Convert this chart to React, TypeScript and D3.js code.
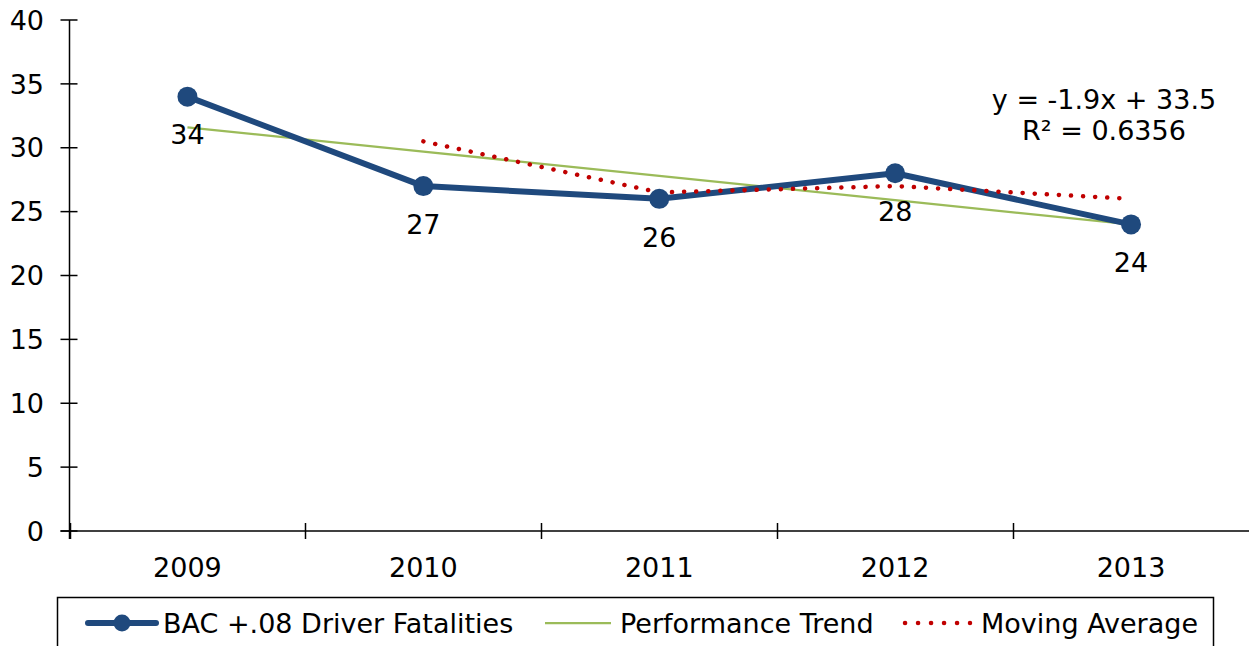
import * as d3 from 'd3'
import { useEffect, useRef } from 'react'

const years = ['2009', '2010', '2011', '2012', '2013']
const fatalities = [34, 27, 26, 28, 24]
const trend = [31.6, 29.7, 27.8, 25.9, 24.0]
const movingAvg = [30.5, 26.5, 27, 26] // starts at 2010
const yTicks = [0, 5, 10, 15, 20, 25, 30, 35, 40]

const W = 1249, H = 646
const FONT = 'DejaVu Sans, Verdana, sans-serif'
const FS = 27
const BLUE = '#1F497D', GREEN = '#9BBB59', RED = '#C00000'

export default function App() {
    const svgRef = useRef<SVGSVGElement>(null)

    useEffect(() => {
        const svg = d3.select(svgRef.current)
        svg.selectAll('*').remove()

        const left = 69.5, right = 1249, top = 20, bottom = 531
        const x = d3.scaleBand().domain(years).range([left, right])
        const cx = (d: string) => (x(d) as number) + x.bandwidth() / 2
        const y = d3.scaleLinear().domain([0, 40]).range([bottom, top])

        // y axis
        const ya = svg.append('g')
        ya.append('line').attr('x1', left).attr('x2', left).attr('y1', top).attr('y2', bottom + 8)
            .attr('stroke', '#000').attr('stroke-width', 1.5)
        ya.selectAll('line.t').data(yTicks).join('line').attr('class', 't')
            .attr('x1', left - 9).attr('x2', left + 8)
            .attr('y1', d => y(d)).attr('y2', d => y(d))
            .attr('stroke', '#000').attr('stroke-width', 1.5)
        ya.selectAll('text').data(yTicks).join('text')
            .attr('x', 44).attr('y', d => y(d)).attr('dy', '0.36em')
            .attr('text-anchor', 'end').style('font', `${FS}px ${FONT}`).text(d => d)

        // x axis
        const xa = svg.append('g')
        xa.append('line').attr('x1', left - 9).attr('x2', right).attr('y1', bottom).attr('y2', bottom)
            .attr('stroke', '#000').attr('stroke-width', 1.5)
        const bounds = years.map(d => x(d) as number)
        xa.selectAll('line.t').data(bounds).join('line').attr('class', 't')
            .attr('x1', d => Math.round(d) + 0.5).attr('x2', d => Math.round(d) + 0.5)
            .attr('y1', bottom - 8).attr('y2', bottom + 8)
            .attr('stroke', '#000').attr('stroke-width', 1.5)
        xa.selectAll('text').data(years).join('text')
            .attr('x', d => cx(d)).attr('y', 577)
            .attr('text-anchor', 'middle').style('font', `${FS}px ${FONT}`).text(d => d)

        // trend line
        svg.append('path')
            .attr('d', d3.line<number>().x((d, i) => cx(years[i])).y(d => y(d))(trend))
            .attr('fill', 'none').attr('stroke', GREEN).attr('stroke-width', 2.25)

        // data line
        svg.append('path')
            .attr('d', d3.line<number>().x((d, i) => cx(years[i])).y(d => y(d))(fatalities))
            .attr('fill', 'none').attr('stroke', BLUE).attr('stroke-width', 6).attr('stroke-linejoin', 'round')

        // moving average (dotted)
        svg.append('path')
            .attr('d', d3.line<number>().x((d, i) => cx(years[i + 1])).y(d => y(d))(movingAvg))
            .attr('fill', 'none').attr('stroke', RED).attr('stroke-width', 4.5)
            .attr('stroke-linecap', 'round').attr('stroke-dasharray', '0.1 12')

        svg.append('g').selectAll('circle').data(fatalities).join('circle')
            .attr('cx', (d, i) => cx(years[i])).attr('cy', d => y(d)).attr('r', 10)
            .attr('fill', BLUE)

        svg.append('g').selectAll('text').data(fatalities).join('text')
            .attr('x', (d, i) => cx(years[i])).attr('y', d => y(d) + 38).attr('dy', '0.36em')
            .attr('text-anchor', 'middle').style('font', `${FS}px ${FONT}`).text(d => d)

        // equation
        const eq = svg.append('g').style('font', `${FS}px ${FONT}`).attr('text-anchor', 'middle')
        eq.append('text').attr('x', 1104).attr('y', 109).text('y = -1.9x + 33.5')
        eq.append('text').attr('x', 1104).attr('y', 140).text('R² = 0.6356')

        // legend
        const lg = svg.append('g')
        lg.append('rect').attr('x', 57.5).attr('y', 597.5).attr('width', 1156).attr('height', 60)
            .attr('fill', '#fff').attr('stroke', '#000').attr('stroke-width', 1.5)
        const ly = 623
        lg.append('line').attr('x1', 88).attr('x2', 156).attr('y1', ly).attr('y2', ly)
            .attr('stroke', BLUE).attr('stroke-width', 6).attr('stroke-linecap', 'round')
        lg.append('circle').attr('cx', 122).attr('cy', ly).attr('r', 8.5).attr('fill', BLUE)
        lg.append('text').attr('x', 163).attr('y', ly).attr('dy', '0.36em')
            .style('font', `${FS}px ${FONT}`).text('BAC +.08 Driver Fatalities')
        lg.append('line').attr('x1', 545).attr('x2', 611).attr('y1', ly).attr('y2', ly)
            .attr('stroke', GREEN).attr('stroke-width', 2.25)
        lg.append('text').attr('x', 620).attr('y', ly).attr('dy', '0.36em')
            .style('font', `${FS}px ${FONT}`).text('Performance Trend')
        lg.append('line').attr('x1', 905).attr('x2', 970).attr('y1', ly).attr('y2', ly)
            .attr('stroke', RED).attr('stroke-width', 4.5)
            .attr('stroke-linecap', 'round').attr('stroke-dasharray', '0.1 12.9')
        lg.append('text').attr('x', 981).attr('y', ly).attr('dy', '0.36em')
            .style('font', `${FS}px ${FONT}`).text('Moving Average')
    }, [])

    return (
        <svg ref={svgRef} width={W} height={H}
            style={{ position: 'absolute', left: 0, top: 0, background: '#fff' }} />
    )
}
